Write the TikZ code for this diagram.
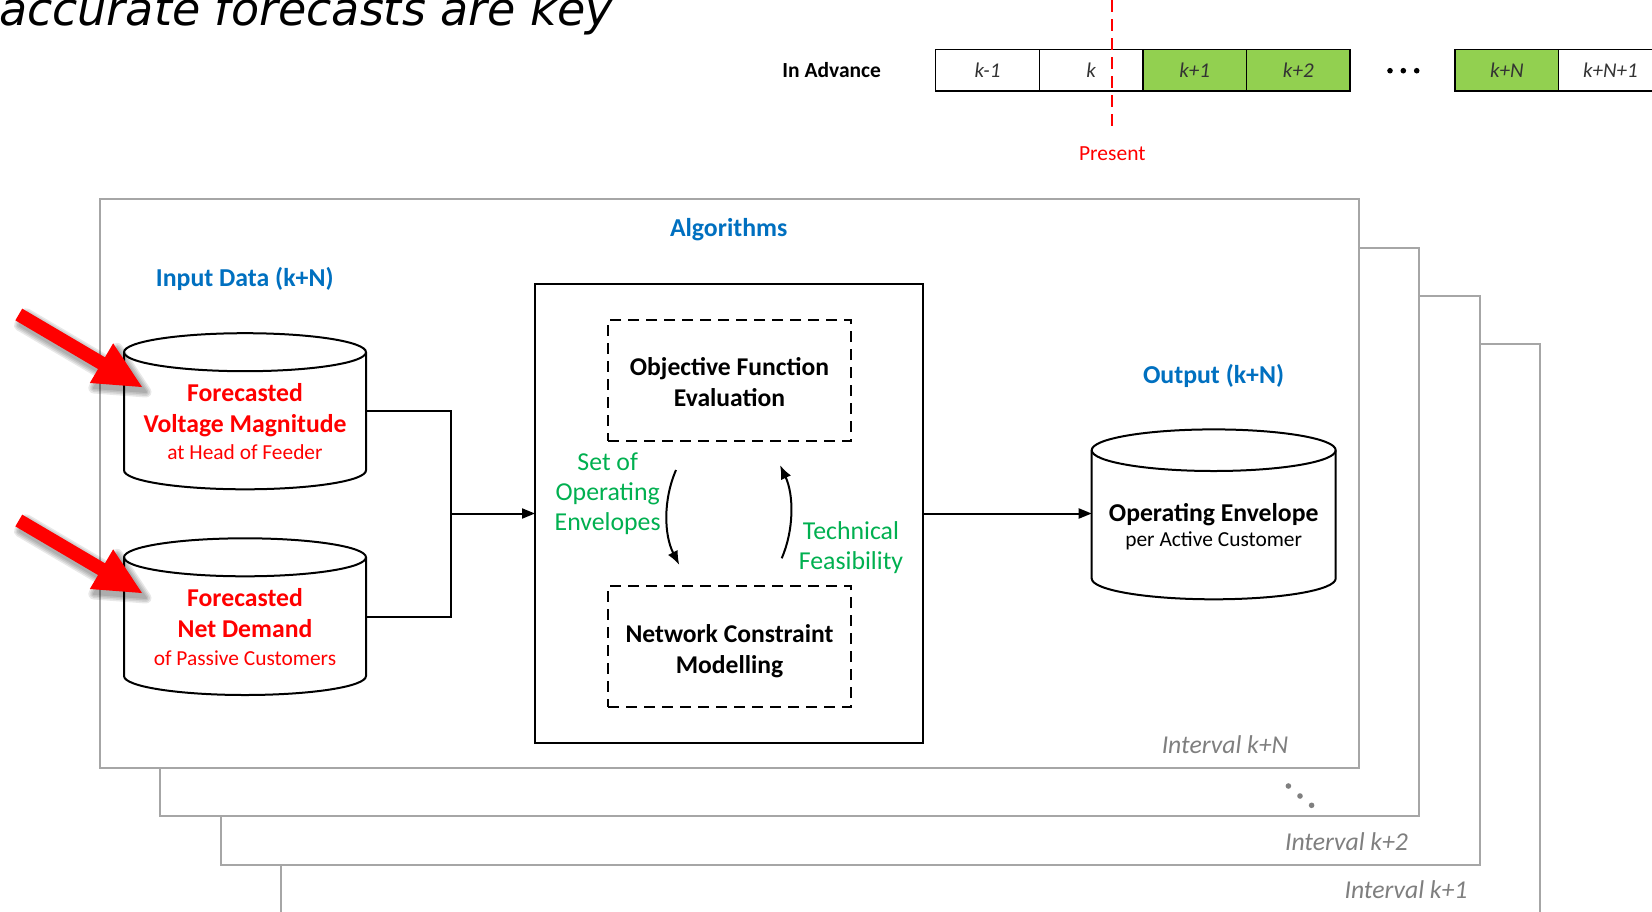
\documentclass[tikz,border=0pt]{standalone}
\usepackage{fontspec}
\setmainfont{Carlito}
\newfontfamily\titlefont{DejaVu Sans}
\usetikzlibrary{calc,arrows.meta}

\definecolor{hdblue}{HTML}{0070C0}
\definecolor{hdred}{HTML}{FF0000}
\definecolor{hdgreen}{HTML}{00B050}
\definecolor{slotgreen}{HTML}{92D050}
\definecolor{pagegray}{HTML}{A6A6A6}
\definecolor{labelgray}{HTML}{7F7F7F}

\newcommand\fsz[2]{\fontsize{#1}{#2}\selectfont}

% cylinder drawn between a top and a bottom ellipse; #1 name of the body node,
% #2 centre x, #3 top ellipse y, #4 bottom ellipse y, #5 x radius, #6 y radius
\newcommand\drum[6]{%
  \path[drumline] (#2-#5,#3) -- (#2-#5,#4)
     arc[start angle=180,end angle=0,x radius=#5,y radius=#6]
     -- (#2+#5,#3)
     arc[start angle=0,end angle=-180,x radius=#5,y radius=#6] -- cycle;
  \draw[line width=2pt] (#2-#5,#3) arc[start angle=180,end angle=0,x radius=#5,y radius=#6];
  \node[minimum width={2*#5}, minimum height={#4-#3}] (#1) at (#2,{(#3+#4)/2}) {};
}

% corner points of a broad block arrow from #2 (tail) to #3 (tip), prefixed #1
\newcommand\blockarrowpts[3]{%
  \coordinate (#1b)  at ($(#3)!47pt!(#2)$);
  \coordinate (#1s1) at ($(#2)!6.8pt!90:(#3)$);
  \coordinate (#1s4) at ($(#2)!6.8pt!-90:(#3)$);
  \coordinate (#1s2) at ($(#1b)!6.8pt!90:(#3)$);
  \coordinate (#1s3) at ($(#1b)!6.8pt!-90:(#3)$);
  \coordinate (#1h1) at ($(#1b)!23pt!90:(#3)$);
  \coordinate (#1h2) at ($(#1b)!23pt!-90:(#3)$);
}
\newcommand\blockarrowpath[2]{(#1s1) -- (#1s2) -- (#1h1) -- (#2) -- (#1h2) -- (#1s3) -- (#1s4) -- cycle}

\begin{document}
\begin{tikzpicture}[x=1pt,y=-1pt,
  every node/.style={inner sep=0pt,outer sep=0pt},
  slot/.style={draw=black,line width=1.5pt,minimum width=103.6pt,minimum height=41.5pt,
               anchor=west,font=\fsz{21}{25}\itshape,text=black!80},
  futureslot/.style={slot,fill=slotgreen},
  sheet/.style={draw=pagegray,fill=white,line width=2pt,minimum width=1259pt,
                minimum height=568.7pt,anchor=north west},
  sheetlabel/.style={font=\fsz{25.7}{30}\itshape,text=labelgray,anchor=base},
  heading/.style={font=\fsz{25.8}{30}\bfseries,text=hdblue,anchor=base},
  drumline/.style={draw=black,fill=white,line width=2pt},
  drumbold/.style={font=\fsz{25.7}{30}\bfseries,anchor=base},
  drumsmall/.style={font=\fsz{21.4}{25}},
  stagebox/.style={draw=black,line width=2pt,dash pattern=on 11pt off 7pt,
                   minimum width=243pt,minimum height=121pt},
  stagetext/.style={font=\fsz{25.6}{31}\bfseries,align=center},
  flow/.style={line width=2pt,-{Triangle[length=13pt,width=10pt]}},
  cycle arrow/.style={line width=2pt,-{Latex[length=14pt,width=11pt]}},
  feedback/.style={font=\fsz{25.8}{30}\selectfont,text=hdgreen,align=center},
]
\useasboundingbox (0,0) rectangle (1652,911);

% ---------- title ----------
\node[anchor=base west,font=\titlefont\itshape\fsz{46}{50}] (title) at (-1,25) {accurate forecasts are key};

% ---------- time slots ----------
\node[anchor=base,font=\fsz{21.5}{25}\bfseries] (adv) at (831.7,77.3) {In Advance};
\node[slot] (s1) at (935.7,70) {k-1};
\node[slot] (s2) at (s1.east) {k};
\node[futureslot] (s3) at (s2.east) {k+1};
\node[futureslot] (s4) at (s3.east) {k+2};
\node[futureslot] (s5) at (1455,70) {k+N};
\node[slot] (s6) at (s5.east) {k+N+1};
\foreach \dx in {1390,1403.3,1416.7} \fill (\dx,70.7) circle (2.8);

\node[anchor=base,font=\fsz{21.5}{25},text=hdred] (present) at (1112.3,160.5) {Present};
\coordinate (nowtop) at (1112.3,0);
\coordinate (nowbot) at (1112.3,131.7);
\draw[hdred,line width=2.2pt,dash pattern=on 12pt off 7pt] (nowtop) -- (nowbot);

% ---------- stacked interval sheets ----------
\foreach \k in {3,2,1,0}
  \node[sheet] (sheet\k) at ({100+60.3*\k},{199.3+48.3*\k}) {};
\node[sheetlabel] (lblN) at (1225,753.3) {Interval k+N};
\node[sheetlabel] (lbl2) at (1346.5,850) {Interval k+2};
\node[sheetlabel] (lbl1) at (1406,898.3) {Interval k+1};
\foreach \px/\py in {1288.4/786,1300/796,1311.6/805.3}
  \fill[labelgray] (\px,\py) circle (2.8);

% ---------- headings ----------
\node[heading] (hin)  at (244.7,286)   {Input Data (k+N)};
\node[heading] (halg) at (728.7,236.7) {Algorithms};
\node[heading] (hout) at (1213.5,383.3) {Output (k+N)};

% ---------- input data stores ----------
\drum{vm}{245}{352.2}{470.3}{121}{19}
\node[drumbold,text=hdred]  (vm1) at (245,401)   {Forecasted};
\node[drumbold,text=hdred]  (vm2) at (245,432.7) {Voltage Magnitude};
\node[drumsmall,text=hdred,anchor=base] (vm3) at (245,459.3) {at Head of Feeder};

\drum{nd}{245}{557.3}{676}{121}{19}
\node[drumbold,text=hdred]  (nd1) at (245,606.7) {Forecasted};
\node[drumbold,text=hdred]  (nd2) at (245,637.7) {Net Demand};
\node[drumsmall,text=hdred,anchor=base] (nd3) at (245,665)   {of Passive Customers};

% ---------- output store ----------
\drum{oe}{1213.7}{450.2}{578.5}{122}{20.8}
\node[drumbold]  (oe1) at (1213.7,521)   {Operating Envelope};
\node[drumsmall,anchor=base] (oe2) at (1213.7,546.7) {per Active Customer};

% ---------- algorithm block ----------
\node[draw=black,line width=2pt,minimum width=388pt,minimum height=459pt,anchor=north west]
  (algo) at (535,284) {};
\node[stagebox] (obj) at (729.5,380.5) {};
\node[stagetext] (objt) at (729.5,381.8) {Objective Function\\Evaluation};
\node[stagebox] (net) at (729.5,646.5) {};
\node[stagetext] (nett) at (729.5,651) {Network Constraint\\Modelling};

\coordinate (la) at (676,470);
\coordinate (lb) at (679.3,565);
\draw[cycle arrow] (la) .. controls (663,500) and (664,535) .. (lb);
\coordinate (ra) at (781.7,558.3);
\coordinate (rb) at (780,465);
\draw[cycle arrow] (ra) .. controls (794,530) and (794,495) .. (rb);
\node[feedback] (soe) at (607.7,493.3) {Set of\\Operating\\Envelopes};
\node[feedback] (tf)  at (851,547.6) {Technical\\Feasibility};

% ---------- connectors ----------
\coordinate (join) at (450.7,513.5);
\draw[line width=2pt] (vm.east) -- (vm.east -| join) -- (nd.east -| join) -- (nd.east);
\draw[flow] (join) -- (algo.west);
\draw[flow] (algo.east) -- (algo.east -| oe.west);

% ---------- red pointer arrows ----------
\coordinate (t1) at (18.8,314.5);
\coordinate (p1) at (142,387);
\coordinate (t2) at (18.8,520.5);
\coordinate (p2) at (142,593);
\blockarrowpts{a}{t1}{p1}
\blockarrowpts{c}{t2}{p2}
\foreach \w in {11,8,5,2} {
  \begin{scope}[transparency group,opacity=0.09,transform canvas={xshift=4pt,yshift=-5pt}]
    \path[fill=black,draw=black,line width=\w pt,line join=round] \blockarrowpath{a}{p1};
    \path[fill=black,draw=black,line width=\w pt,line join=round] \blockarrowpath{c}{p2};
  \end{scope}
}
\fill[hdred] \blockarrowpath{a}{p1};
\fill[hdred] \blockarrowpath{c}{p2};
\end{tikzpicture}
\end{document}
